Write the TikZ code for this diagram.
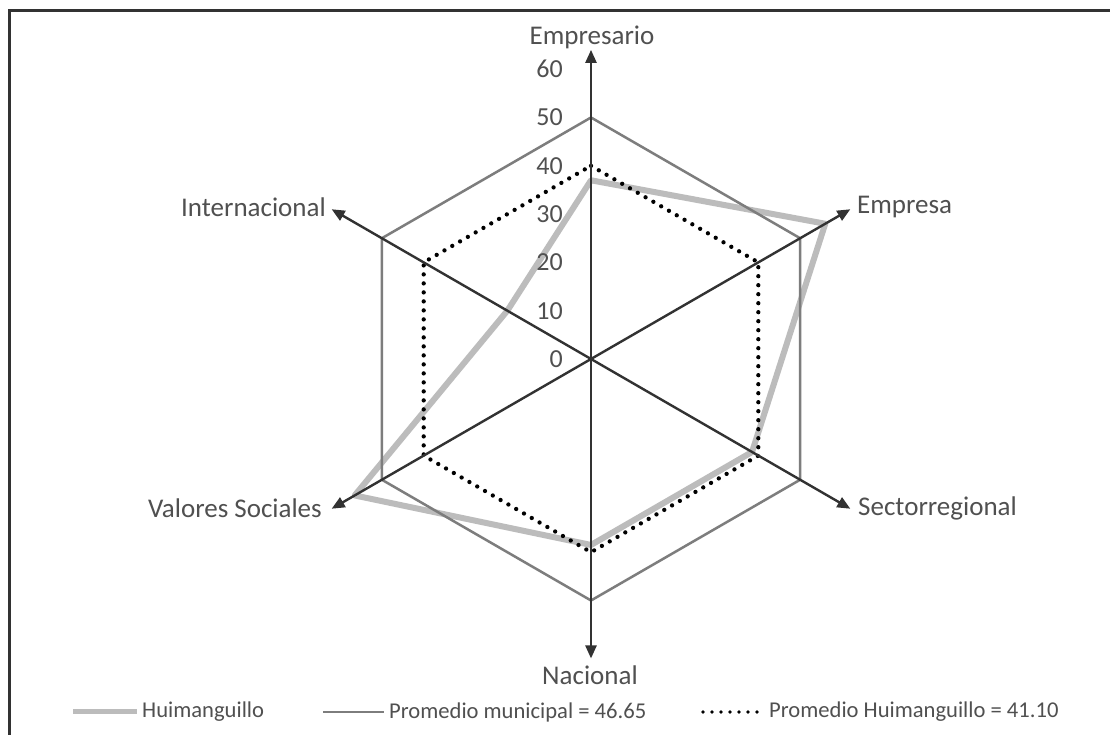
\documentclass[tikz,border=0pt]{standalone}
\usepackage{fontspec}
\setmainfont{Carlito}
\usepackage{xcolor}
\usetikzlibrary{arrows.meta, positioning, calc}
\definecolor{axisgray}{RGB}{50, 50, 50}
\definecolor{hexgray}{RGB}{125, 125, 125}
\definecolor{huigray}{RGB}{188, 188, 188}
\definecolor{textgray}{RGB}{80, 80, 80}

\begin{document}
\begin{tikzpicture}[x=1pt, y=1pt,
    axisline/.style={line width=2.4pt, axisgray, -{Triangle[length=13pt, width=11pt]}},
    hexline/.style={line width=2.5pt, hexgray, line join=miter},
    huiline/.style={line width=6pt, huigray, line join=round, line cap=round},
    dotline/.style={line width=4.3pt, black, dash pattern=on 0pt off 9pt, line cap=round},
    axislabel/.style={text=textgray, font=\fontsize{27}{30}\selectfont, inner sep=0pt},
    ticklabel/.style={text=textgray, font=\fontsize{26}{28}\selectfont, anchor=east, inner sep=0pt},
    legendlabel/.style={text=textgray, font=\fontsize{22.6}{25}\selectfont, anchor=west, inner sep=0pt}]
    \useasboundingbox (0,0) rectangle (1110,738);
    \fill[white] (0,0) rectangle (1110,738);
    % marco
    \draw[line width=3pt, axisgray] (9,3) -- (9,727) -- (1110,727);

    \def\rs{4.83}
    \coordinate (o) at (591,379);

    % Huimanguillo
    \draw[huiline] ($(o)+(90:37*\rs)$) -- ($(o)+(30:56*\rs)$) -- ($(o)+(-30:38.5*\rs)$)
        -- ($(o)+(-90:38.5*\rs)$) -- ($(o)+(210:56.5*\rs)$) -- ($(o)+(150:20*\rs)$) -- cycle;

    % promedio municipal
    \draw[hexline] ($(o)+(90:50*\rs)$) -- ($(o)+(30:50*\rs)$) -- ($(o)+(-30:50*\rs)$)
        -- ($(o)+(-90:50*\rs)$) -- ($(o)+(210:50*\rs)$) -- ($(o)+(150:50*\rs)$) -- cycle;

    % promedio Huimanguillo
    \draw[dotline] ($(o)+(90:40*\rs)$) -- ($(o)+(30:40*\rs)$) -- ($(o)+(-30:40*\rs)$)
        -- ($(o)+(-90:40*\rs)$) -- ($(o)+(210:40*\rs)$) -- ($(o)+(150:40*\rs)$) -- cycle;

    % ejes
    \coordinate (empresario) at ($(o)+(90:64*\rs)$);
    \coordinate (empresa) at ($(o)+(30:62*\rs)$);
    \coordinate (sector) at ($(o)+(-30:62*\rs)$);
    \coordinate (nacional) at ($(o)+(-90:62*\rs)$);
    \coordinate (valores) at ($(o)+(210:62*\rs)$);
    \coordinate (internacional) at ($(o)+(150:62*\rs)$);
    \foreach \c in {empresario, empresa, sector, nacional, valores, internacional}
        \draw[axisline] (o) -- (\c);

    \node[axislabel] (lempresario) at (592,701) {Empresario};
    \node[axislabel, anchor=west] (lempresa) at (857,531) {Empresa};
    \node[axislabel, anchor=west] (lsector) at (858,230) {Sectorregional};
    \node[axislabel] (lnacional) at (590,63) {Nacional};
    \node[axislabel, anchor=east] (lvalores) at (322,230) {Valores Sociales};
    \node[axislabel, anchor=east] (linternacional) at (326,531) {Internacional};

    % escala
    \foreach \v in {0,10,...,60}
        \node[ticklabel] (t\v) at (563,{379+\v*\rs}) {\v};

    % leyenda
    \coordinate (hA) at (73,26);
    \coordinate (hB) at (137,26);
    \coordinate (mA) at (323,26);
    \coordinate (mB) at (384,26);
    \coordinate (dA) at (703,26);
    \coordinate (dB) at (758,26);
    \draw[line width=5pt, huigray] (hA) -- (hB);
    \draw[line width=2.4pt, hexgray] (mA) -- (mB);
    \draw[line width=3.6pt, black, dash pattern=on 0pt off 9pt, line cap=round] (dA) -- (dB);
    \node[legendlabel] (lhui) at (142,26) {Huimanguillo};
    \node[legendlabel] (lmun) at (389,26) {Promedio municipal = 46.65};
    \node[legendlabel] (lprom) at (769,26) {Promedio Huimanguillo = 41.10};
\end{tikzpicture}
\end{document}
